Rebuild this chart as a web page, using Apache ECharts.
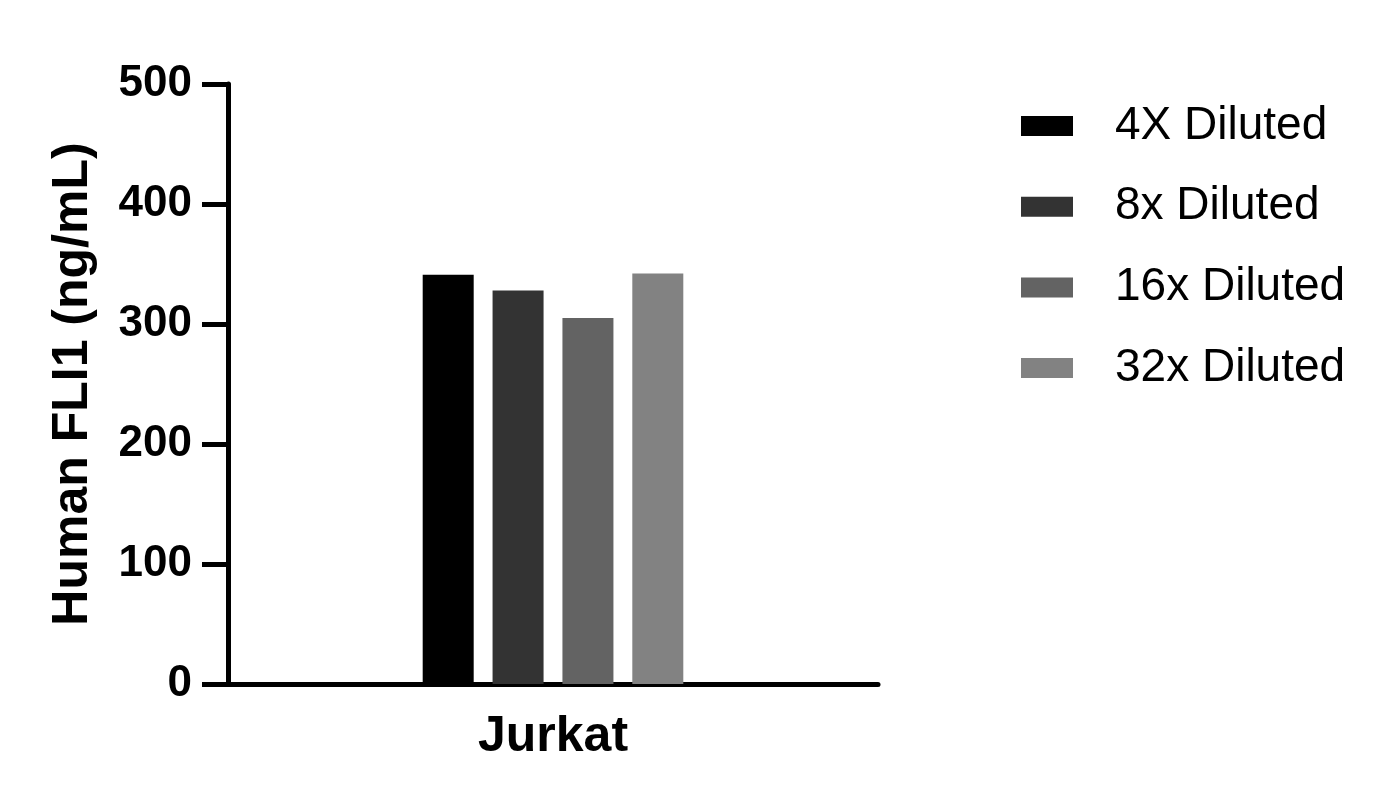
<!DOCTYPE html>
<html>
  <head>
    <meta charset="utf-8" />
    <title>Human FLI1</title>
    <style type="text/css">
      html, body { margin: 0; padding: 0; background: #fff; }
      #main { width: 1397px; height: 804px; }
    </style>
    <script type="text/javascript" src="https://cdn.jsdelivr.net/npm/echarts@6/dist/echarts.min.js"></script>
  </head>
  <body>
    <div id="main"></div>
    <script type="text/javascript">
    var categories = ['Jurkat'];
    var seriesNames = ['4X Diluted', '8x Diluted', '16x Diluted', '32x Diluted'];
    var seriesColors = ['#000000', '#333333', '#636363', '#828282'];
    var values4x = [341];
    var values8x = [328];
    var values16x = [305];
    var values32x = [342];
    var yTicks = [0, 100, 200, 300, 400, 500];

    var allValues = [values4x, values8x, values16x, values32x];
    var font = '"Liberation Sans", Arial, sans-serif';

    var myChart = echarts.init(document.getElementById('main'));

    var series = seriesNames.map(function (name, i) {
      return {
        name: name,
        type: 'bar',
        data: allValues[i],
        barWidth: 51,
        barGap: '37%',
        itemStyle: { color: seriesColors[i] }
      };
    });

    var option = {
      animation: false,
      backgroundColor: '#ffffff',
      grid: { left: 228, top: 84, right: 519, bottom: 120 },
      legend: {
        orient: 'vertical',
        left: 1016,
        top: 98,
        itemWidth: 52,
        itemHeight: 20,
        itemGap: 34.7,
        icon: 'rect',
        data: seriesNames,
        textStyle: {
          fontFamily: font,
          fontSize: 46,
          color: '#000',
          lineHeight: 43,
          padding: [0, 0, 0, 37]
        }
      },
      xAxis: {
        type: 'category',
        data: categories,
        axisLine: { lineStyle: { color: '#000', width: 5 } },
        axisTick: { show: false },
        axisLabel: {
          margin: 28,
          fontFamily: font,
          fontWeight: 'bold',
          fontSize: 50,
          color: '#000'
        }
      },
      yAxis: {
        type: 'value',
        min: yTicks[0],
        max: yTicks[yTicks.length - 1],
        interval: 100,
        name: 'Human FLI1 (ng/mL)',
        nameLocation: 'middle',
        nameGap: 130,
        nameTextStyle: {
          fontFamily: font,
          fontWeight: 'bold',
          fontSize: 50,
          color: '#000'
        },
        splitLine: { show: false },
        axisLine: { show: true, lineStyle: { color: '#000', width: 5 } },
        axisTick: { show: true, length: 26, lineStyle: { color: '#000', width: 5 } },
        axisLabel: {
          margin: 36,
          fontFamily: font,
          fontWeight: 'bold',
          fontSize: 44,
          color: '#000'
        }
      },
      series: series
    };

    myChart.setOption(option);
    </script>
  </body>
</html>
